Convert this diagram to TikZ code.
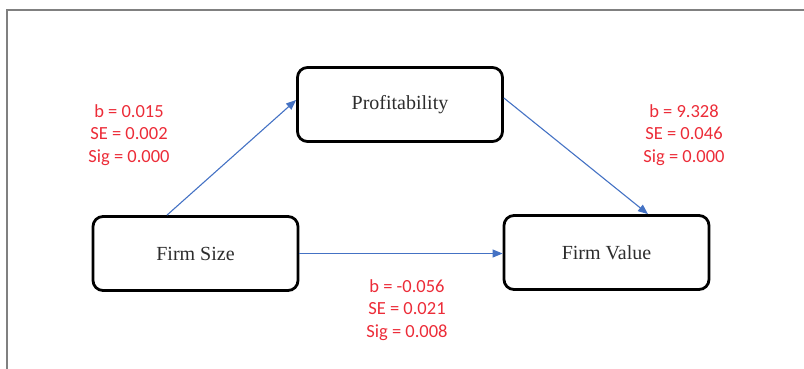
\documentclass[tikz,border=0pt]{standalone}
\usepackage{tikz}
\usepackage{xcolor}
\usepackage{fontspec}
\setmainfont{Liberation Serif}
\newfontfamily\labelfont{Carlito}
\usetikzlibrary{arrows.meta}

\definecolor{pathblue}{RGB}{68,114,196}
\definecolor{coefred}{RGB}{236,44,56}
\definecolor{boxtext}{RGB}{45,45,45}

\begin{document}
\begin{tikzpicture}[x=1pt,y=-1pt,
    varbox/.style={draw=black,line width=2.8pt,rounded corners=10pt,
      minimum width=205pt,minimum height=74pt,inner sep=0pt,
      text=boxtext,font=\fontsize{20}{24}\selectfont},
    coef/.style={align=center,text=coefred,inner sep=0pt,
      font=\labelfont\fontsize{18.5}{22.5}\selectfont},
    pathline/.style={draw=pathblue,line width=1.1pt,
      -{Triangle[length=10pt,width=8pt]}}]
    \useasboundingbox (0,0) rectangle (804,368);
    \draw[gray,line width=2pt] (7,380) -- (7,9.5) -- (820,9.5);
    \node[varbox] (prof) at (400,104.5) {Profitability};
    \node[varbox] (size) at (195.5,253.5) {Firm Size};
    \node[varbox] (value) at (606.5,252.5) {Firm Value};
    \draw[pathline] ([xshift=-28.5pt]size.north) -- ([yshift=4.5pt]prof.west);
    \draw[pathline] ([yshift=6.5pt]prof.east) -- ([xshift=41.5pt]value.north);
    \draw[pathline] (size.east) -- (size.east -| value.west);
    \node[coef] (a) at (129,135) {b = 0.015\\SE = 0.002\\Sig = 0.000};
    \node[coef] (bcoef) at (684,135) {b = 9.328\\SE = 0.046\\Sig = 0.000};
    \node[coef] (c) at (407,310) {b = -0.056\\SE = 0.021\\Sig = 0.008};
  \end{tikzpicture}
\end{document}
